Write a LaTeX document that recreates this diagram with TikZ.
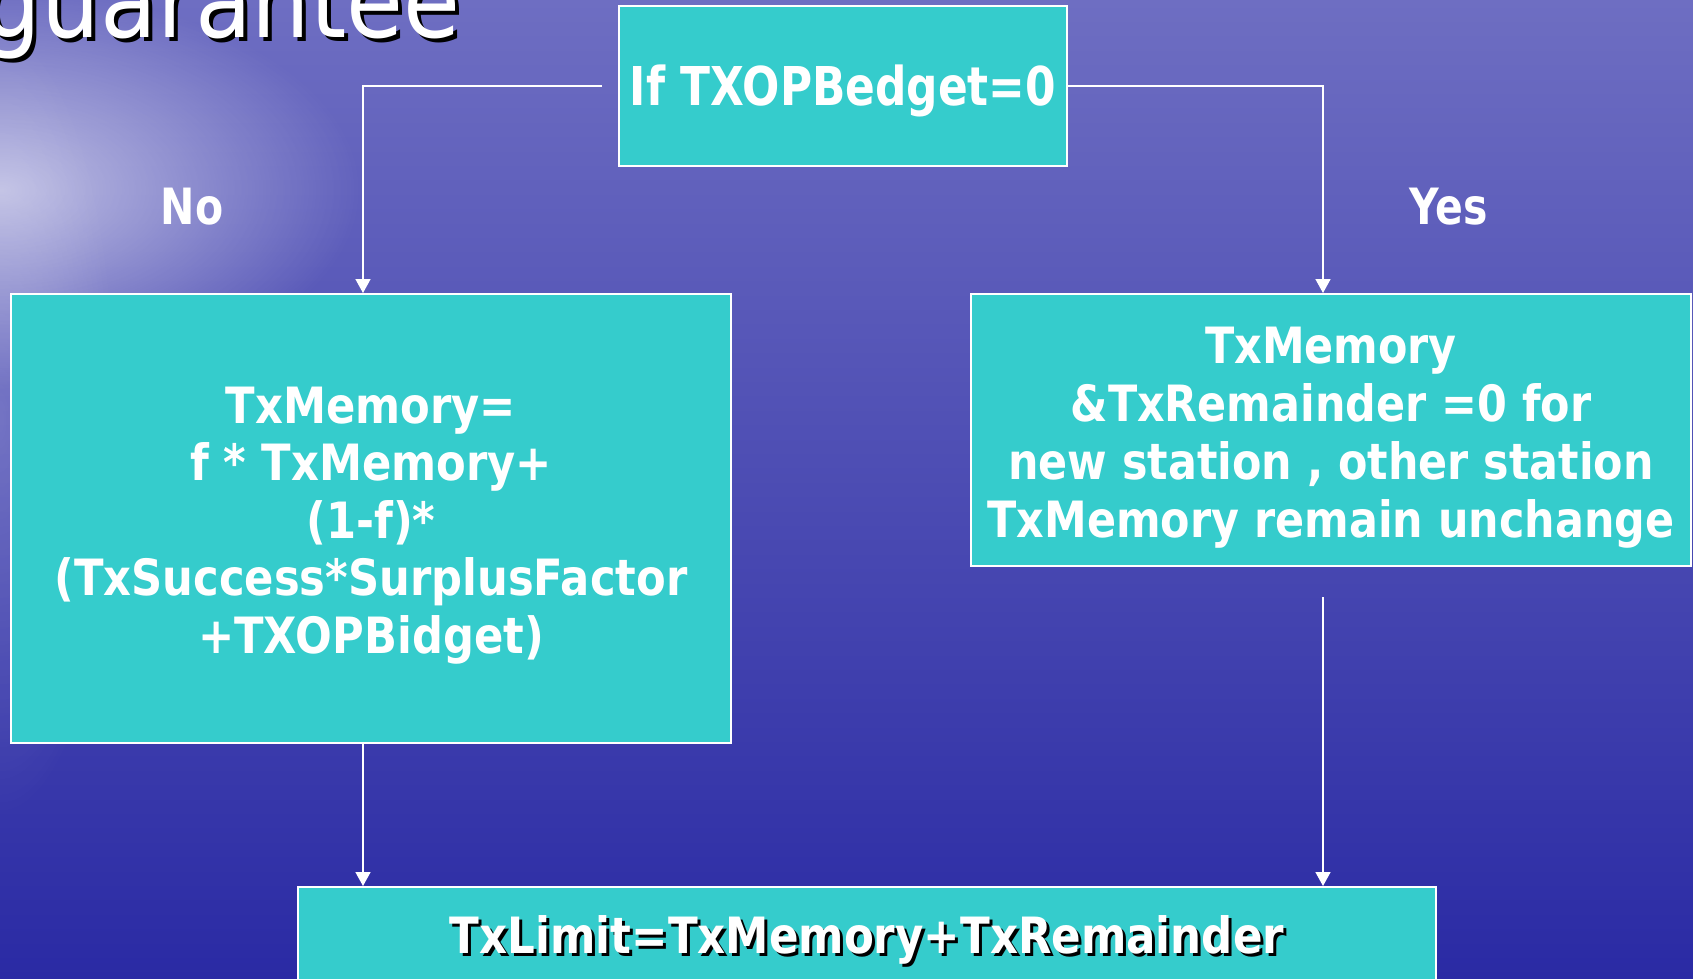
\documentclass[tikz,border=0pt]{standalone}
\usepackage{fontspec}
\usepackage{xcolor}
\usetikzlibrary{arrows.meta,calc,positioning,fadings}
\newfontfamily\boxfont{DejaVu Sans}[FakeStretch=0.865]
\newfontfamily\yesfont{DejaVu Sans}[FakeStretch=0.857]
\newfontfamily\headfont{DejaVu Sans}[FakeStretch=0.82]
\newfontfamily\limitfont{DejaVu Sans}[FakeStretch=0.871]
\newfontfamily\titlefont{DejaVu Sans}[FakeStretch=0.89]
\definecolor{seatop}{HTML}{6E6EC2}
\definecolor{seamid}{HTML}{4242AE}
\definecolor{seabottom}{HTML}{2A2AA4}
\definecolor{boxteal}{HTML}{35CCCC}
\newcommand{\firstline}[1]{\rule{0pt}{#1}}
\tikzfading[name=glowfade,inner color=transparent!0,outer color=transparent!100]
\tikzfading[name=bandfade,top color=transparent!100,middle color=transparent!0,bottom color=transparent!100]
\tikzset{
  stepbox/.style={draw=white,line width=1pt,fill=boxteal,text=white,align=center,inner sep=0pt,
    font=\boxfont\bfseries\fontsize{25}{28.75}\selectfont},
  flow/.style={draw=white,line width=0.8pt,-{Triangle[length=7pt,width=7.5pt]}},
  answer/.style={text=white,font=\headfont\bfseries\fontsize{25}{30}\selectfont}
}

\begin{document}
\begin{tikzpicture}[x=0.5pt,y=-0.5pt]
  \useasboundingbox (0,0) rectangle (1693,979);
  \clip (0,0) rectangle (1693,979);
  \shade[top color=seatop,middle color=seamid,bottom color=seabottom] (0,0) rectangle (1693,979);
  \fill[white,opacity=0.18,path fading=bandfade] (0,60) rectangle (1693,170);
  \fill[white,opacity=0.6,path fading=glowfade] (0,190) ellipse (180pt and 100pt);
  \fill[white,opacity=0.2,path fading=glowfade] (0,420) ellipse (60pt and 200pt);

  \node[anchor=base east,inner sep=0pt,text=black,font=\titlefont\fontsize{52}{60}\selectfont] (titleshadow) at (465,42) {guarantee};
  \node[anchor=base east,inner sep=0pt,text=white,font=\titlefont\fontsize{52}{60}\selectfont] (title) at (461,38) {guarantee};

  \node[stepbox,minimum width=224pt,minimum height=80pt,font=\headfont\bfseries\fontsize{26.75}{32}\selectfont] (test) at (843,86)
    {\firstline{25.5pt}If TXOPBedget=0};
  \node[stepbox,minimum width=360pt,minimum height=224.5pt] (nobox) at (371,518.5)
    {\firstline{25pt}TxMemory=\\f * TxMemory+\\(1-f)*\\(TxSuccess*SurplusFactor\\+TXOPBidget)};
  \node[stepbox,minimum width=360pt,minimum height=136pt,font=\yesfont\bfseries\fontsize{25}{29}\selectfont] (yesbox) at (1331,430)
    {\firstline{26pt}TxMemory\\\&TxRemainder =0 for\\new station , other station\\TxMemory remain unchange};
  \node[stepbox,minimum width=569pt,minimum height=50pt,anchor=north] (limit) at (867,886) {};
  \node[text=black,font=\limitfont\bfseries\fontsize{25}{30}\selectfont] (limitshadow) at ($(limit.center)+(3,6)$) {TxLimit=TxMemory+TxRemainder};
  \node[text=white,font=\limitfont\bfseries\fontsize{25}{30}\selectfont] (limittext) at ($(limit.center)+(0,3)$) {TxLimit=TxMemory+TxRemainder};

  \node[answer] (nolabel) at (192,207) {No};
  \node[answer] (yeslabel) at (1449,207) {Yes};

  \coordinate (nstart) at (602,86);
  \coordinate (nturn) at (363,86);
  \coordinate (yturn) at (1323,86);
  \coordinate (ystart) at (1323,597);
  \draw[flow] (nstart) -- (nturn) -- (nturn |- nobox.north);
  \draw[flow] (test.east) -- (yturn) -- (yturn |- yesbox.north);
  \draw[flow] (nturn |- nobox.south) -- (nturn |- limit.north);
  \draw[flow] (ystart) -- (ystart |- limit.north);
\end{tikzpicture}
\end{document}
